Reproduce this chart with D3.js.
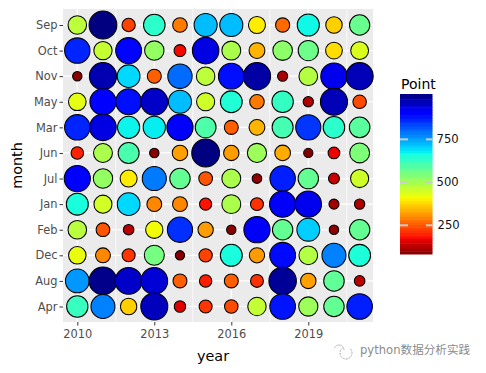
<!DOCTYPE html>
<html><head><meta charset="utf-8">
<script src="https://cdn.jsdelivr.net/npm/d3@7/dist/d3.min.js"></script>
<style>html,body{margin:0;padding:0;background:#fff}svg{display:block}text{font-family:"DejaVu Sans",sans-serif}</style>
</head><body><svg id="c" width="486" height="373"></svg>
<script>
const months = ["Sep","Oct","Nov","May","Mar","Jun","Jul","Jan","Feb","Dec","Aug","Apr"];
const years = d3.range(2010, 2022);
const xTicks = [2010, 2013, 2016, 2019];
const legendTicks = [250, 500, 750];
const Sep = [474,1014,232,640,288,725,725,400,270,670,372,570];
const Oct = [865,465,895,521,176,935,495,344,530,565,385,440];
const Nov = [90,975,700,260,800,475,885,985,115,483,925,970];
const May = [430,912,885,955,725,455,651,285,630,120,970,240];
const Mar = [865,935,675,680,915,600,260,344,610,850,640,586];
const Jun = [200,495,605,90,325,1014,322,510,335,85,170,545];
const Jul = [912,521,400,785,575,250,495,97,870,575,140,455];
const Jan = [660,450,700,300,300,185,495,215,915,925,110,120];
const Feb = [478,250,130,415,855,322,90,915,575,710,92,575];
const Dec = [425,300,220,555,88,232,660,320,890,485,780,655];
const Aug = [760,1005,955,945,260,195,260,215,995,325,580,130];
const Apr = [625,780,372,965,160,220,240,468,880,510,575,870];
const rows = [Sep,Oct,Nov,May,Mar,Jun,Jul,Jan,Feb,Dec,Aug,Apr];
const vMin = 83, vMax = 1014;

const svg = d3.select("#c");
const P = {l:63, r:373, t:9, b:322};
const x = d3.scaleLinear().domain([2010,2019]).range([77.3,308.3]);
const y = d3.scalePoint().domain(months).range([25,306.5]);
const r = d3.scalePow().exponent(0.7).domain([vMin,vMax]).range([4.6,13.9]);

// matplotlib jet, reversed so high values are dark blue
const jetR = d3.scaleLinear().domain([0,.35,.66,.89,1]).range([0,0,255,255,128]);
const jetG = d3.scaleLinear().domain([0,.125,.375,.64,.91,1]).range([0,0,255,255,0,0]);
const jetB = d3.scaleLinear().domain([0,.11,.34,.65,1]).range([128,255,255,0,0]);
const t = d3.scaleLinear().domain([vMax,vMin]).range([0,1]);
const color = v => { const k=t(v); return d3.rgb(jetR(k),jetG(k),jetB(k)).formatRgb(); };

svg.append("rect").attr("x",P.l).attr("y",P.t).attr("width",P.r-P.l).attr("height",P.b-P.t).attr("fill","#ebebeb");
// grid
const minors = [2011.5,2014.5,2017.5,2020.5];
svg.append("g").selectAll("line").data(minors).join("line")
  .attr("x1",x).attr("x2",x).attr("y1",P.t).attr("y2",P.b).attr("stroke","#fff").attr("stroke-width",.7);
svg.append("g").selectAll("line").data(xTicks).join("line")
  .attr("x1",x).attr("x2",x).attr("y1",P.t).attr("y2",P.b).attr("stroke","#fff").attr("stroke-width",1.2);
svg.append("g").selectAll("line").data(months).join("line")
  .attr("y1",y).attr("y2",y).attr("x1",P.l).attr("x2",P.r).attr("stroke","#fff").attr("stroke-width",1.2);

const pts = [];
months.forEach((m,i)=>years.forEach((yr,j)=>pts.push({m,yr,v:rows[i][j]})));
svg.append("g").selectAll("circle").data(pts).join("circle")
  .attr("cx",d=>x(d.yr)).attr("cy",d=>y(d.m)).attr("r",d=>r(d.v))
  .attr("fill",d=>color(d.v)).attr("stroke","#000").attr("stroke-width",1.05);

// axes
const ax = svg.append("g").attr("transform",`translate(0,${P.b})`)
  .call(d3.axisBottom(x).tickValues(xTicks).tickFormat(d3.format("d")).tickSize(3.5).tickPadding(4));
const ay = svg.append("g").attr("transform",`translate(${P.l},0)`)
  .call(d3.axisLeft(y).tickSize(3.5).tickPadding(2));
[ax,ay].forEach(a=>{
  a.select(".domain").remove();
  a.selectAll("line").attr("stroke","#333").attr("stroke-width",1);
  a.selectAll("text").attr("fill","#4d4d4d").attr("font-size",11.4).style("font-family",'"DejaVu Sans"');
});
svg.append("text").attr("x",213).attr("y",360.5).attr("text-anchor","middle").attr("font-size",14.4).text("year");
svg.append("text").attr("transform","translate(22,165.5) rotate(-90)").attr("text-anchor","middle").attr("font-size",14.4).text("month");

// colourbar
const L = {x:400,w:32.5,t:94,b:254};
const ly = d3.scaleLinear().domain([vMin,vMax]).range([L.b,L.t]);
const steps = d3.range(vMin,vMax,(vMax-vMin)/60);
svg.append("g").selectAll("rect").data(steps).join("rect")
  .attr("x",L.x).attr("width",L.w)
  .attr("y",d=>ly(d+(vMax-vMin)/60)).attr("height",d=>ly(d)-ly(d+(vMax-vMin)/60)+.5)
  .attr("fill",d=>color(d+(vMax-vMin)/120));
const lt = svg.append("g").selectAll("g").data(legendTicks).join("g");
lt.append("line").attr("x1",L.x).attr("x2",L.x+8).attr("y1",ly).attr("y2",ly).attr("stroke","#ccc").attr("stroke-width",2);
lt.append("line").attr("x1",L.x+L.w-6.5).attr("x2",L.x+L.w).attr("y1",ly).attr("y2",ly).attr("stroke","#ccc").attr("stroke-width",2);
lt.append("text").attr("x",d=>d===250?437.5:436.5).attr("y",d=>ly(d)+4).attr("font-size",11.6).attr("fill","#111").text(d=>d);
svg.append("text").attr("x",401).attr("y",89).attr("font-size",14).text("Point");

// watermark
const wm = svg.append("g").attr("fill","none").attr("stroke","#bbb").attr("stroke-width",.8);
wm.append("path").attr("d",d3.arc()({innerRadius:5,outerRadius:5,startAngle:-1.2,endAngle:1.6})).attr("transform","translate(339,350)").attr("stroke-dasharray","2 1");
wm.append("path").attr("d",d3.arc()({innerRadius:6,outerRadius:6,startAngle:0.8,endAngle:5.6})).attr("transform","translate(346,353)").attr("stroke-dasharray","2 1");
svg.append("text").attr("x",360).attr("y",354).attr("font-size",11.6).attr("fill","#8c8c8c").style("font-family",'"DejaVu Sans","Noto Sans CJK SC"').text("python数据分析实践");
</script></body></html>
